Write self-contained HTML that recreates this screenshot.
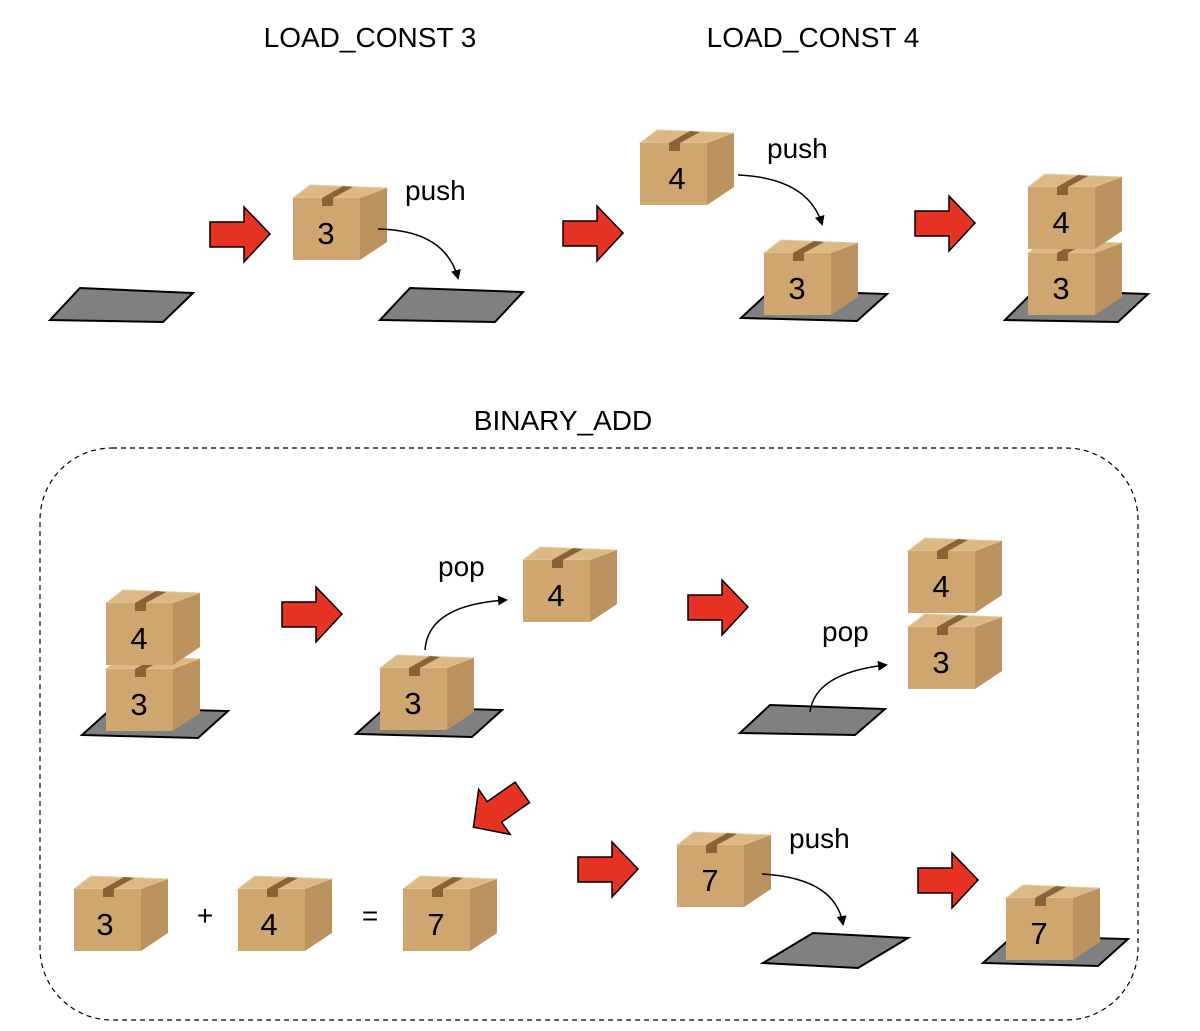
<!DOCTYPE html>
<html><head><meta charset="utf-8"><style>
html,body{margin:0;padding:0;background:#fff}
svg{display:block}
text{font-family:"Liberation Sans",sans-serif;fill:#000}
</style></head><body>
<svg width="1200" height="1031" viewBox="0 0 1200 1031" xmlns="http://www.w3.org/2000/svg">
<defs>
<g id="box">
  <polygon points="0,13 17,0 94,3 67,13" fill="#dcb884" stroke="#e8cc9c" stroke-width="1"/>
  <rect x="0" y="13" width="67" height="62" fill="#cfa66f"/>
  <polygon points="67,13 94,3 94,57 67,75" fill="#bb915d"/>
  <polygon points="29,13 40,13 60,2 50,1" fill="#8a6238"/>
  <rect x="29" y="13" width="11" height="8" fill="#8a6238"/>
</g>
<g id="arr"><polygon points="0,15 34,15 34,0 60,27 34,55 34,40 0,40" fill="#e63323" stroke="#000" stroke-width="1.5"/></g>
<marker id="mh" markerWidth="10" markerHeight="10" refX="8" refY="5" orient="auto" markerUnits="userSpaceOnUse"><path d="M0,0 L10,5 L0,10 z" fill="#000"/></marker>
</defs>

<g font-size="28">
<text x="370" y="47" text-anchor="middle">LOAD_CONST 3</text>
<text x="813" y="47" text-anchor="middle">LOAD_CONST 4</text>
<text x="563" y="430" text-anchor="middle">BINARY_ADD</text>
<text x="405" y="200">push</text>
<text x="767" y="158">push</text>
<text x="438" y="576">pop</text>
<text x="822" y="641">pop</text>
<text x="789" y="848">push</text>
<text x="205" y="925" text-anchor="middle">+</text>
<text x="370" y="925" text-anchor="middle">=</text>
</g>

<rect x="40" y="448" width="1098" height="572" rx="72" fill="none" stroke="#000" stroke-width="1.2" stroke-dasharray="5,4"/>

<g fill="#808080" stroke="#000" stroke-width="2">
<polygon points="50,320 80,288 193,293 163,322"/>
<polygon points="380,320 410,288 523,292 495,322"/>
<polygon points="741,318 771,290 887,294 857,321"/>
<polygon points="1005,320 1035,290 1148,294 1118,322"/>
<polygon points="82,735 112,708 228,711 198,738"/>
<polygon points="356,734 386,707 502,710 472,737"/>
<polygon points="740,733 770,705 885,709 855,735"/>
<polygon points="763,963 813,933 908,938 858,968"/>
<polygon points="983,963 1013,936 1128,939 1098,966"/>
</g>

<g font-size="31" text-anchor="middle">
<g transform="translate(293,185)"><use href="#box"/><text x="33" y="59">3</text></g>
<g transform="translate(640,130)"><use href="#box"/><text x="37" y="59">4</text></g>
<g transform="translate(764,240)"><use href="#box"/><text x="33" y="59">3</text></g>
<g transform="translate(1028,240)"><use href="#box"/><text x="33" y="59">3</text></g>
<g transform="translate(1028,174)"><use href="#box"/><text x="33" y="59">4</text></g>
<g transform="translate(106,656)"><use href="#box"/><text x="33" y="59">3</text></g>
<g transform="translate(106,590)"><use href="#box"/><text x="33" y="59">4</text></g>
<g transform="translate(523,547)"><use href="#box"/><text x="33" y="59">4</text></g>
<g transform="translate(380,655)"><use href="#box"/><text x="33" y="59">3</text></g>
<g transform="translate(908,614)"><use href="#box"/><text x="33" y="59">3</text></g>
<g transform="translate(908,538)"><use href="#box"/><text x="33" y="59">4</text></g>
<g transform="translate(74,876)"><use href="#box"/><text x="31" y="59">3</text></g>
<g transform="translate(238,876)"><use href="#box"/><text x="31" y="59">4</text></g>
<g transform="translate(403,876)"><use href="#box"/><text x="33" y="59">7</text></g>
<g transform="translate(677,832)"><use href="#box"/><text x="33" y="59">7</text></g>
<g transform="translate(1006,885)"><use href="#box"/><text x="33" y="59">7</text></g>
</g>

<g fill="none" stroke="#000" stroke-width="1.5" marker-end="url(#mh)">
<path d="M378,229 Q445,230 458,278"/>
<path d="M738,175 Q808,178 822,224"/>
<path d="M425,650 Q428,605 506,600"/>
<path d="M810,712 Q815,673 886,665"/>
<path d="M762,874 Q835,878 843,924"/>
</g>

<use href="#arr" x="210" y="207"/>
<use href="#arr" x="563" y="206"/>
<use href="#arr" x="915" y="196"/>
<use href="#arr" x="282" y="587"/>
<use href="#arr" x="688" y="580"/>
<use href="#arr" x="578" y="842"/>
<use href="#arr" x="918" y="853"/>
<g transform="translate(498,810) rotate(145) translate(-30,-27)"><use href="#arr"/></g>
</svg>
</body></html>
